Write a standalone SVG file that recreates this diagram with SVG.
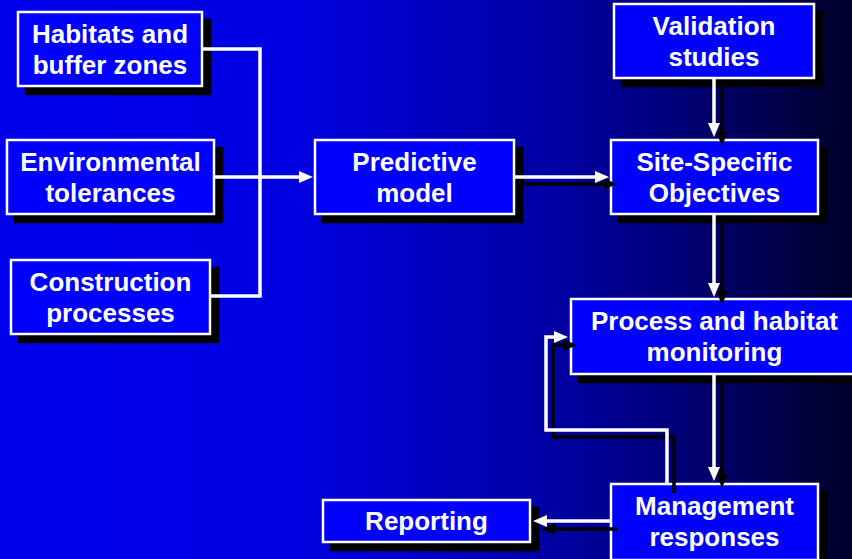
<svg xmlns="http://www.w3.org/2000/svg" width="852" height="559" viewBox="0 0 852 559">
<defs>
<linearGradient id="bg" x1="0" y1="0" x2="1" y2="0">
<stop offset="0" stop-color="#0000F0"/>
<stop offset="0.35" stop-color="#0000E0"/>
<stop offset="0.65" stop-color="#0000A4"/>
<stop offset="0.82" stop-color="#000070"/>
<stop offset="1" stop-color="#000028"/>
</linearGradient>
<marker id="aw" markerUnits="userSpaceOnUse" viewBox="0 0 14 12" markerWidth="14" markerHeight="12" refX="2" refY="6" orient="auto">
<path d="M0,0 L14,6 L0,12 z" fill="#FFFFFF"/>
</marker>
<marker id="ab" markerUnits="userSpaceOnUse" viewBox="0 0 14 12" markerWidth="14" markerHeight="12" refX="2" refY="6" orient="auto">
<path d="M0,0 L14,6 L0,12 z" fill="#000000"/>
</marker>
<style>
.sh{fill:#000;stroke:#000;stroke-width:2.5}
.bx{fill:#0000FF;stroke:#FFFFFF;stroke-width:2.5}
.t{font-family:"Liberation Sans",Arial,sans-serif;font-weight:bold;font-size:26px;fill:#FFFFFF;text-anchor:middle}
.cw{fill:none;stroke:#FFFFFF;stroke-width:3.5}
.cb{fill:none;stroke:#000000;stroke-width:3.5}
</style>
</defs>
<rect x="0" y="0" width="852" height="559" fill="url(#bg)"/>

<g id="habitats">
<rect class="sh" x="26" y="20" width="184" height="74"/>
<rect class="bx" x="18" y="12" width="184" height="74"/>
<text class="t" x="110" y="43">Habitats and</text>
<text class="t" x="110" y="74">buffer zones</text>
</g>
<g id="environmental">
<rect class="sh" x="15" y="148" width="207" height="74"/>
<rect class="bx" x="7" y="140" width="207" height="74"/>
<text class="t" x="110.5" y="171">Environmental</text>
<text class="t" x="110.5" y="202">tolerances</text>
</g>
<g id="construction">
<rect class="sh" x="19" y="268" width="199" height="74"/>
<rect class="bx" x="11" y="260" width="199" height="74"/>
<text class="t" x="110.5" y="291">Construction</text>
<text class="t" x="110.5" y="322">processes</text>
</g>
<g id="predictive">
<rect class="sh" x="323" y="148" width="199" height="74"/>
<rect class="bx" x="315" y="140" width="199" height="74"/>
<text class="t" x="414.5" y="171">Predictive</text>
<text class="t" x="414.5" y="202">model</text>
</g>
<g id="validation">
<rect class="sh" x="622" y="12" width="200" height="74"/>
<rect class="bx" x="614" y="4" width="200" height="74"/>
<text class="t" x="714" y="35">Validation</text>
<text class="t" x="714" y="66">studies</text>
</g>
<g id="site">
<rect class="sh" x="619" y="148" width="207" height="74"/>
<rect class="bx" x="611" y="140" width="207" height="74"/>
<text class="t" x="714.5" y="171">Site-Specific</text>
<text class="t" x="714.5" y="202">Objectives</text>
</g>
<g id="process">
<rect class="sh" x="579" y="307" width="287" height="75"/>
<rect class="bx" x="571" y="299" width="287" height="75"/>
<text class="t" x="714.5" y="330">Process and habitat</text>
<text class="t" x="714.5" y="361">monitoring</text>
</g>
<g id="management">
<rect class="sh" x="619" y="492" width="207" height="76"/>
<rect class="bx" x="611" y="484" width="207" height="76"/>
<text class="t" x="714.5" y="515">Management</text>
<text class="t" x="714.5" y="546">responses</text>
</g>
<g id="reporting">
<rect class="sh" x="331" y="508" width="207" height="42"/>
<rect class="bx" x="323" y="500" width="207" height="42"/>
<text class="t" x="426.5" y="530">Reporting</text>
</g>

<g id="connectors">
<!-- shadows -->
<path class="cb" d="M523,184 H605" marker-end="url(#ab)"/>
<path class="cb" d="M722,87 V134" marker-end="url(#ab)"/>
<path class="cb" d="M722,222 V293" marker-end="url(#ab)"/>
<path class="cb" d="M722,383 V476" marker-end="url(#ab)"/>
<path class="cb" d="M674,493 V437 H553 V345 H565" marker-end="url(#ab)"/>
<path class="cb" d="M617,529 H553" marker-end="url(#ab)"/>
<!-- white -->
<path class="cw" d="M203,49 H260 V296 H211" stroke-width="3"/>
<path class="cw" d="M215,177 H301" stroke-width="3" marker-end="url(#aw)"/>
<path class="cw" d="M515,177 H597" marker-end="url(#aw)"/>
<path class="cw" d="M714,79 V125" marker-end="url(#aw)"/>
<path class="cw" d="M714,214 V285" marker-end="url(#aw)"/>
<path class="cw" d="M714,375 V469" marker-end="url(#aw)"/>
<path class="cw" d="M667,484 V430 H546 V337 H556" marker-end="url(#aw)"/>
<path class="cw" d="M611,521 H545" marker-end="url(#aw)"/>
</g>
</svg>
